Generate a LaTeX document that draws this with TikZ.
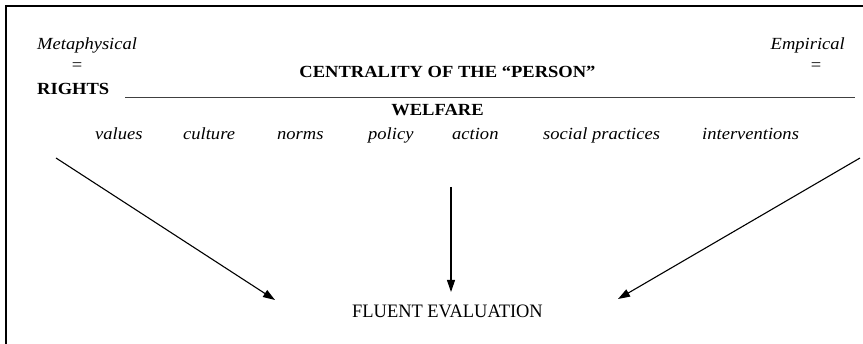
\documentclass[tikz,border=0pt]{standalone}
\usepackage{fontspec}
\setmainfont{Liberation Serif}[FakeStretch=1.09]
\newfontfamily\fluentfont{Liberation Serif}[FakeStretch=0.97]
\usetikzlibrary{arrows.meta}
\begin{document}
\begin{tikzpicture}[x=1pt,y=1pt,
  txt/.style={inner sep=0pt,font=\fontsize{17}{20}\selectfont},
  itxt/.style={txt,font=\fontsize{17}{20}\selectfont\itshape,anchor=base west},
  btxt/.style={txt,font=\fontsize{17}{20}\selectfont\bfseries},
  arr/.style={line width=1.1pt,-{Triangle[length=12pt,width=8pt]}},
  frame/.style={line width=2pt}]
\useasboundingbox (0,0) rectangle (863,344);
% frame (cropped at right and bottom)
\draw[frame] (6,-2) -- (6,338) -- (865,338);
% top texts
\node[itxt] (meta) at (37,294) {Metaphysical};
\node[itxt,anchor=base east] (emp) at (845,294) {Empirical};
\node[txt,anchor=base] (eql) at (77,273) {=};
\node[txt,anchor=base] (eqr) at (816,273) {=};
\node[btxt,anchor=base] (cent) at (447.5,266) {CENTRALITY OF THE ``PERSON''};
\node[btxt,anchor=base west] (rights) at (37,249) {RIGHTS};
\coordinate (ruleL) at (125,247);
\coordinate (ruleR) at (855,247);
\draw[line width=0.9pt,black!75] (ruleL) -- (ruleR);
\node[btxt,anchor=base] (welfare) at (437.5,228) {WELFARE};
% italic row
\node[itxt] (values) at (95,204) {values};
\node[itxt] (culture) at (183,204) {culture};
\node[itxt] (norms) at (277,204) {norms};
\node[itxt] (policy) at (368,204) {policy};
\node[itxt] (action) at (452,204) {action};
\node[itxt] (social) at (543,204) {social practices};
\node[itxt] (interv) at (702,204) {interventions};
% bottom
\node[inner sep=0pt,anchor=base,font=\fluentfont\fontsize{19}{22}\selectfont] (fluent) at (447.5,26) {FLUENT EVALUATION};
% arrows
\coordinate (ls) at (56,186);
\coordinate (lt) at (275,44);
\coordinate (ms) at (451,157);
\coordinate (mt) at (451,52);
\coordinate (rs) at (860,186);
\coordinate (rt) at (618,45);
\draw[arr] (ls) -- (lt);
\draw[arr] (ms) -- (mt);
\draw[arr] (rs) -- (rt);
\end{tikzpicture}
\end{document}
